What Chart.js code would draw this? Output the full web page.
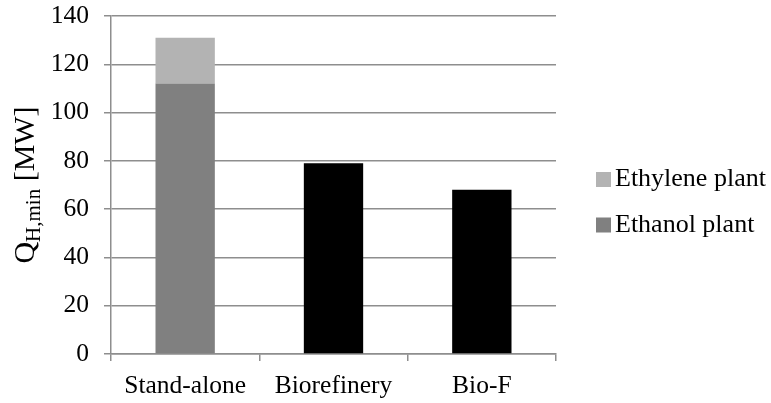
<!DOCTYPE html>
<html>
<head>
<meta charset="utf-8">
<script src="https://cdn.jsdelivr.net/npm/chart.js@4/dist/chart.umd.min.js"></script>
<style>
  html, body { margin: 0; padding: 0; background: #fff; }
  #wrap { width: 771px; height: 403px; }
</style>
</head>
<body>
<div id="wrap"><canvas id="chart" width="771" height="403"></canvas></div>
<script>
const categories = [`Stand-alone`, `Biorefinery`, `Bio-F`];
const ethanolPlant = [112, null, null];
const ethylenePlant = [19, null, null];
const integrated = [null, 79, 68];

const FONT = `"Liberation Serif", "Times New Roman", serif`;
const GRID = `#8e8e8e`;

// y-axis title with a real subscript: Q_{H,min} [MW]
const yTitle = {
  id: `yTitle`,
  afterDraw(chart) {
    const ctx = chart.ctx;
    const parts = [
      {text: `Q`, size: 30, dy: 0},
      {text: `H,min`, size: 21, dy: 6},
      {text: ` [MW]`, size: 30, dy: 0}
    ];
    ctx.save();
    let total = 0;
    parts.forEach((p) => {
      ctx.font = `${p.size}px ${FONT}`;
      p.w = ctx.measureText(p.text).width;
      total += p.w;
    });
    const mid = (chart.chartArea.top + chart.chartArea.bottom) / 2;
    ctx.translate(33.5, mid);
    ctx.rotate(-Math.PI / 2);
    ctx.fillStyle = `#000`;
    ctx.textBaseline = `alphabetic`;
    let x = -total / 2;
    parts.forEach((p) => {
      ctx.font = `${p.size}px ${FONT}`;
      ctx.fillText(p.text, x, p.dy);
      x += p.w;
    });
    ctx.restore();
  }
};

// legend on the right, top item = top of the stack
const sideLegend = {
  id: `sideLegend`,
  afterDraw(chart) {
    const ctx = chart.ctx;
    const items = chart.data.datasets.filter((d) => d.inLegend).reverse();
    ctx.save();
    ctx.font = `26px ${FONT}`;
    ctx.textBaseline = `middle`;
    items.forEach((d, i) => {
      const cy = 179.5 + i * 45.5;
      ctx.fillStyle = d.backgroundColor;
      ctx.fillRect(596, cy - 7.5, 15, 15);
      ctx.fillStyle = `#000`;
      ctx.fillText(d.label, 615, cy);
    });
    ctx.restore();
  }
};

new Chart(document.getElementById(`chart`), {
  type: `bar`,
  data: {
    labels: categories,
    datasets: [
      {label: `Ethanol plant`, data: ethanolPlant, backgroundColor: `#808080`, inLegend: true},
      {label: `Ethylene plant`, data: ethylenePlant, backgroundColor: `#b3b3b3`, inLegend: true},
      {label: `Integrated`, data: integrated, backgroundColor: `#000000`, inLegend: false}
    ]
  },
  options: {
    responsive: false,
    animation: false,
    layout: {padding: {top: 16, right: 215, left: 0, bottom: 0}},
    datasets: {bar: {categoryPercentage: 1, barPercentage: 0.4, skipNull: false}},
    plugins: {legend: {display: false}, tooltip: {enabled: false}},
    scales: {
      x: {
        stacked: true,
        grid: {drawOnChartArea: false, color: GRID, lineWidth: 1.5, tickLength: 7},
        border: {color: GRID, width: 1.5},
        ticks: {color: `#000`, font: {family: FONT, size: 25.5}, padding: 10},
        afterFit: (scale) => {
          scale.height = 49;
          scale.paddingLeft = 0;
          scale.paddingRight = 0;
        }
      },
      y: {
        stacked: true,
        min: 0,
        max: 140,
        grid: {color: GRID, lineWidth: 1.5, tickLength: 7},
        border: {color: GRID, width: 1.5},
        ticks: {stepSize: 20, color: `#000`, font: {family: FONT, size: 25.5}, padding: 15},
        afterFit: (scale) => {
          scale.width = 111;
          scale.paddingTop = 0;
          scale.paddingBottom = 0;
        }
      }
    }
  },
  plugins: [yTitle, sideLegend]
});
</script>
</body>
</html>
